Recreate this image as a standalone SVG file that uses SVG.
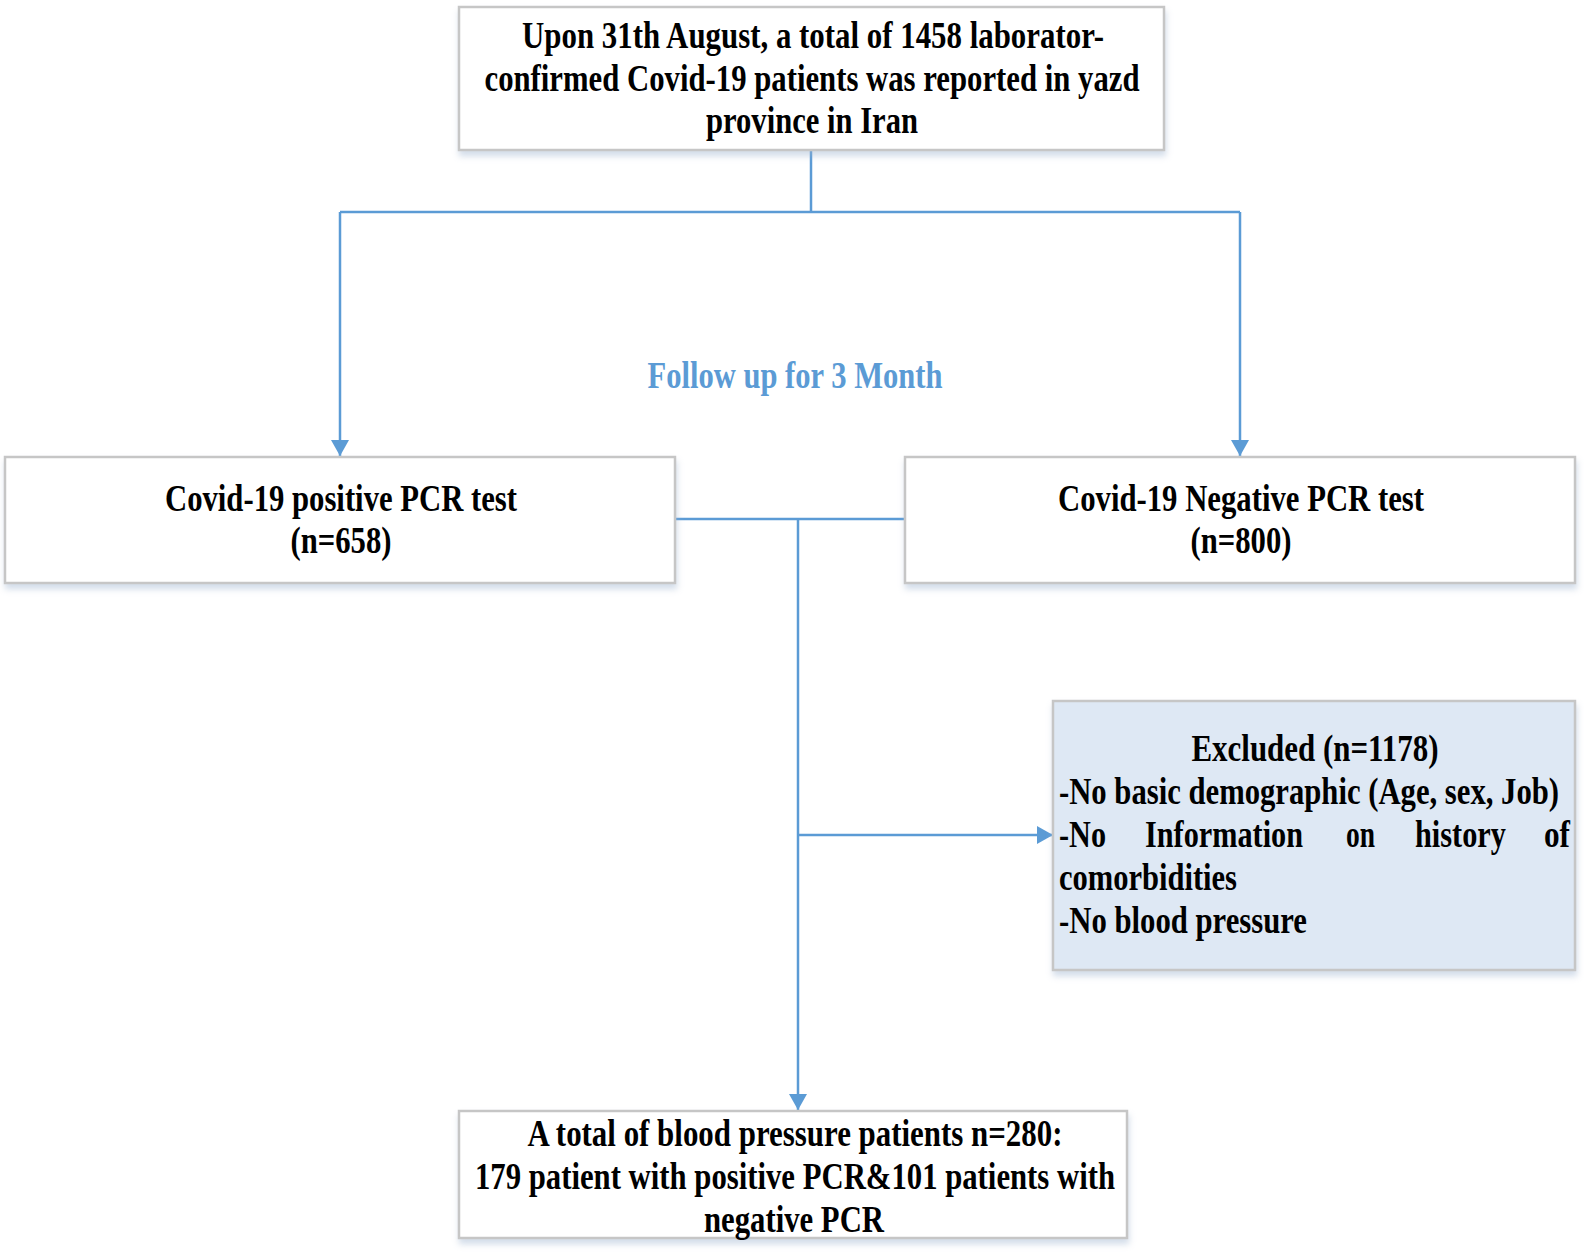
<svg xmlns="http://www.w3.org/2000/svg" width="1584" height="1252" viewBox="0 0 1584 1252">
<defs>
<style>
.box{fill:#ffffff;stroke:#c6c6c6;stroke-width:2.5;filter:url(#sh)}
.exc{fill:#dee8f4}
.t{font-family:"Liberation Serif","Times New Roman",serif;font-weight:bold;font-size:37px;fill:#000}
.m{text-anchor:middle}
.blue{fill:#5b9bd5}
.c{fill:none;stroke:#5b9bd5;stroke-width:2.5}
</style>
<filter id="sh" x="-5%" y="-10%" width="110%" height="130%">
<feDropShadow dx="1" dy="5" stdDeviation="3" flood-color="#9db3cf" flood-opacity="0.45"/>
</filter>
<marker id="ah" viewBox="0 0 16 20" refX="16" refY="10" markerWidth="16" markerHeight="20" markerUnits="userSpaceOnUse" orient="auto">
<path d="M0,1 L16,10 L0,19 Z" fill="#5b9bd5"/>
</marker>
</defs>
<rect width="1584" height="1252" fill="#ffffff"/>

<g id="connectors">
<path class="c" d="M811,150 V212"/>
<path class="c" d="M340,212 H1240"/>
<path class="c" d="M340,212 V456" marker-end="url(#ah)"/>
<path class="c" d="M1240,212 V456" marker-end="url(#ah)"/>
<path class="c" d="M675,519 H905"/>
<path class="c" d="M798,519 V1110" marker-end="url(#ah)"/>
<path class="c" d="M798,835 H1053" marker-end="url(#ah)"/>
</g>

<g id="node-top">
<rect class="box" x="459" y="7" width="705" height="143"/>
<text class="t m" x="813" y="48" textLength="582" lengthAdjust="spacingAndGlyphs">Upon 31th August, a total of 1458 laborator-</text>
<text class="t m" x="812" y="91" textLength="655" lengthAdjust="spacingAndGlyphs">confirmed Covid-19 patients was reported in yazd</text>
<text class="t m" x="812" y="133" textLength="212" lengthAdjust="spacingAndGlyphs">province in Iran</text>
</g>

<g id="label-follow">
<text class="t m blue" x="795" y="388" textLength="295" lengthAdjust="spacingAndGlyphs">Follow up for 3 Month</text>
</g>

<g id="node-positive">
<rect class="box" x="5" y="457" width="670" height="126"/>
<text class="t m" x="341" y="511" textLength="352" lengthAdjust="spacingAndGlyphs">Covid-19 positive PCR test</text>
<text class="t m" x="341" y="553" textLength="101" lengthAdjust="spacingAndGlyphs">(n=658)</text>
</g>

<g id="node-negative">
<rect class="box" x="905" y="457" width="670" height="126"/>
<text class="t m" x="1241" y="511" textLength="366" lengthAdjust="spacingAndGlyphs">Covid-19 Negative PCR test</text>
<text class="t m" x="1241" y="553" textLength="101" lengthAdjust="spacingAndGlyphs">(n=800)</text>
</g>

<g id="node-excluded">
<rect class="box exc" x="1053" y="701" width="522" height="269"/>
<text class="t m" x="1315" y="761" textLength="247" lengthAdjust="spacingAndGlyphs">Excluded (n=1178)</text>
<text class="t" x="1059" y="804" textLength="500" lengthAdjust="spacingAndGlyphs">-No basic demographic (Age, sex, Job)</text>
<text class="t" y="847"><tspan x="1059" textLength="47" lengthAdjust="spacingAndGlyphs">-No</tspan><tspan x="1145" textLength="158" lengthAdjust="spacingAndGlyphs">Information</tspan><tspan x="1346" textLength="29" lengthAdjust="spacingAndGlyphs">on</tspan><tspan x="1415" textLength="91" lengthAdjust="spacingAndGlyphs">history</tspan><tspan x="1544" textLength="26" lengthAdjust="spacingAndGlyphs">of</tspan></text>
<text class="t" x="1059" y="890" textLength="178" lengthAdjust="spacingAndGlyphs">comorbidities</text>
<text class="t" x="1059" y="933" textLength="248" lengthAdjust="spacingAndGlyphs">-No blood pressure</text>
</g>

<g id="node-bottom">
<rect class="box" x="459" y="1111" width="668" height="127"/>
<text class="t m" x="795" y="1146" textLength="535" lengthAdjust="spacingAndGlyphs">A total of blood pressure patients n=280:</text>
<text class="t m" x="795" y="1189" textLength="640" lengthAdjust="spacingAndGlyphs">179 patient with positive PCR&amp;101 patients with</text>
<text class="t m" x="794" y="1232" textLength="180" lengthAdjust="spacingAndGlyphs">negative PCR</text>
</g>
</svg>
